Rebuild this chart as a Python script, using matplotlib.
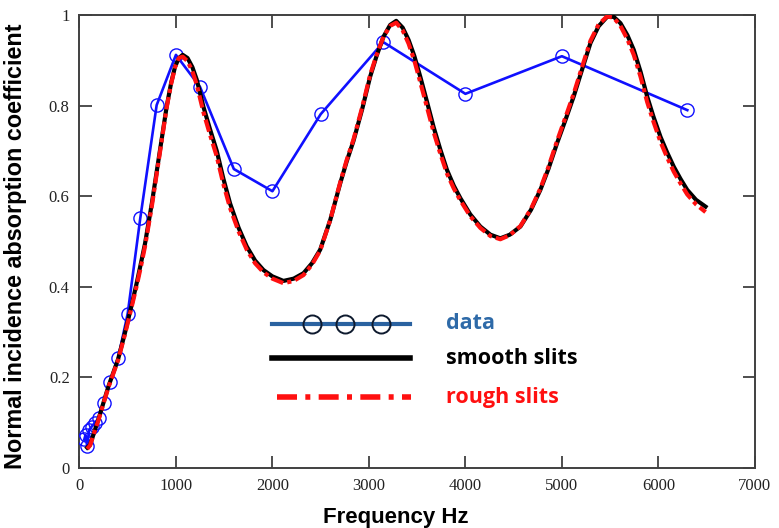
import matplotlib
matplotlib.use("Agg")
import matplotlib.pyplot as plt

# measured data (1/3-octave bands)
data_freq = [50, 63, 80, 100, 125, 160, 200, 250, 315, 400, 500, 630, 800,
             1000, 1250, 1600, 2000, 2500, 3150, 4000, 5000, 6300]
data_alpha = [0.063, 0.073, 0.048, 0.084, 0.091, 0.10, 0.11, 0.144, 0.19, 0.242,
              0.341, 0.551, 0.801, 0.912, 0.841, 0.66, 0.611, 0.781, 0.94,
              0.826, 0.909, 0.79]

# smooth slits model
smooth_freq = [80, 110, 200, 300, 400, 470, 530, 593, 640, 680, 750, 835, 904,
               950, 991, 1030, 1070, 1120, 1170, 1216, 1284, 1350, 1423, 1490,
               1561, 1650, 1734, 1820, 1907, 2000, 2114, 2220, 2322, 2410, 2495,
               2600, 2702, 2770, 2840, 2930, 3013, 3080, 3151, 3220, 3283, 3350,
               3411, 3470, 3532, 3600, 3670, 3740, 3809, 3880, 3947, 4050, 4155,
               4260, 4362, 4460, 4570, 4680, 4777, 4860, 4950, 5040, 5122, 5210,
               5296, 5380, 5469, 5537, 5607, 5680, 5745, 5815, 5884, 5950, 6022,
               6090, 6160, 6230, 6299, 6390, 6489]
smooth_alpha = [0.045, 0.051, 0.11, 0.18, 0.24, 0.297, 0.35, 0.408, 0.455, 0.496,
                0.584, 0.702, 0.798, 0.85, 0.886, 0.905, 0.912, 0.905, 0.885,
                0.857, 0.798, 0.75, 0.70, 0.64, 0.584, 0.53, 0.489, 0.458, 0.437,
                0.423, 0.413, 0.418, 0.43, 0.452, 0.482, 0.548, 0.628, 0.677, 0.722,
                0.792, 0.864, 0.91, 0.952, 0.978, 0.987, 0.972, 0.945, 0.91, 0.864,
                0.81, 0.753, 0.703, 0.658, 0.623, 0.596, 0.56, 0.533, 0.515, 0.507,
                0.515, 0.533, 0.57, 0.614, 0.66, 0.717, 0.77, 0.82, 0.88, 0.938,
                0.975, 0.996, 0.996, 0.982, 0.955, 0.923, 0.875, 0.82, 0.775,
                0.731, 0.697, 0.665, 0.638, 0.614, 0.592, 0.577]

# rough slits model
rough_freq = [80, 110, 200, 300, 400, 470, 530, 593, 640, 680, 750, 835, 904,
              950, 991, 1030, 1070, 1120, 1170, 1216, 1284, 1350, 1423, 1490,
              1561, 1650, 1734, 1820, 1907, 2000, 2114, 2220, 2322, 2410, 2495,
              2600, 2702, 2770, 2840, 2930, 3013, 3080, 3151, 3220, 3283, 3350,
              3411, 3470, 3532, 3600, 3670, 3740, 3809, 3880, 3947, 4050, 4155,
              4260, 4362, 4460, 4570, 4680, 4777, 4860, 4950, 5040, 5122, 5210,
              5296, 5380, 5469, 5537, 5607, 5680, 5745, 5815, 5884, 5950, 6022,
              6090, 6160, 6230, 6299, 6390, 6489]
rough_alpha = [0.042, 0.05, 0.108, 0.178, 0.238, 0.294, 0.346, 0.402, 0.448, 0.49,
               0.578, 0.698, 0.796, 0.848, 0.885, 0.905, 0.908, 0.898, 0.876,
               0.846, 0.786, 0.738, 0.688, 0.628, 0.574, 0.522, 0.482, 0.452, 0.432,
               0.418, 0.408, 0.413, 0.426, 0.449, 0.48, 0.548, 0.63, 0.68, 0.725,
               0.796, 0.868, 0.912, 0.952, 0.976, 0.983, 0.966, 0.937, 0.9, 0.852,
               0.798, 0.742, 0.694, 0.65, 0.617, 0.591, 0.556, 0.53, 0.512, 0.505,
               0.514, 0.534, 0.572, 0.617, 0.664, 0.722, 0.776, 0.826, 0.886, 0.943,
               0.979, 0.997, 0.994, 0.976, 0.946, 0.912, 0.864, 0.808, 0.764,
               0.72, 0.686, 0.654, 0.628, 0.604, 0.582, 0.565]

x_ticks = [0, 1000, 2000, 3000, 4000, 5000, 6000, 7000]
y_ticks = [0, 0.2, 0.4, 0.6, 0.8, 1]
y_tick_labels = ["0", "0.2", "0.4", "0.6", "0.8", "1"]

legend_labels = ["data", "smooth slits", "rough slits"]

fig = plt.figure(figsize=(7.79, 5.28), dpi=100)
ax = fig.add_axes([0.102, 0.1136, 0.867, 0.858])

ax.plot(data_freq, data_alpha, color="#1010ff", lw=1.9, marker="o", ms=9.5,
        mfc="none", mec="#1010ff", mew=1.0, zorder=3)
ax.plot(smooth_freq, smooth_alpha, color="black", lw=3.0, zorder=4)
ax.plot(rough_freq, rough_alpha, color="#ff1010", lw=3.0,
        linestyle=(0, (3, 1, 1, 1)), zorder=5)

ax.set_xlim(0, 7000)
ax.set_ylim(0, 1)
ax.set_xticks(x_ticks)
ax.set_yticks(y_ticks)
ax.set_yticklabels(y_tick_labels)

for s in ax.spines.values():
    s.set_color("#404040")
    s.set_linewidth(1.4)

ax.tick_params(direction="in", length=9, width=1.3, color="#404040",
               top=True, right=True, labelsize=12, labelcolor="#222222", pad=7)
for lab in ax.get_xticklabels() + ax.get_yticklabels():
    lab.set_family("Liberation Serif")

ax.set_xlabel("Frequency Hz", fontsize=16, fontweight="bold",
              family="Liberation Sans")
ax.xaxis.set_label_coords(0.469, -0.085)
ax.set_ylabel("Normal incidence absorption coefficient", fontsize=16.8,
              fontweight="bold", family="Liberation Sans")
ax.yaxis.set_label_coords(-0.077, 0.49)

# custom legend (axes-fraction layout)
lx0, lx1, tx = 0.285, 0.489, 0.543
ly = [0.319, 0.242, 0.156]
tr = ax.transAxes
ax.plot([lx0, lx1], [ly[0], ly[0]], transform=tr, color="#2a62a0", lw=3,
        zorder=6, clip_on=False)
ax.plot([0.344, 0.393, 0.446], [ly[0]] * 3, transform=tr, ls="none",
        marker="o", ms=13, mfc="none", mec="#0e1a2e", mew=1.4, zorder=7,
        clip_on=False)
ax.plot([lx0, lx1], [ly[1], ly[1]], transform=tr, color="black", lw=4,
        zorder=6, clip_on=False)
ax.plot([lx0 + 0.007, lx1 + 0.002], [ly[2], ly[2]], transform=tr,
        color="#ff1010", lw=4, linestyle=(0, (3.6, 1.5, 0.9, 1.5)), zorder=6,
        clip_on=False)
legend_colors = ["#2e6aa8", "black", "#ff1010"]
for y, lab, c in zip(ly, legend_labels, legend_colors):
    ax.text(tx, y, lab, transform=tr, color=c, fontsize=15.5, fontweight="bold",
            family="Open Sans", va="center", ha="left")

fig.savefig("out.png", dpi=100)
